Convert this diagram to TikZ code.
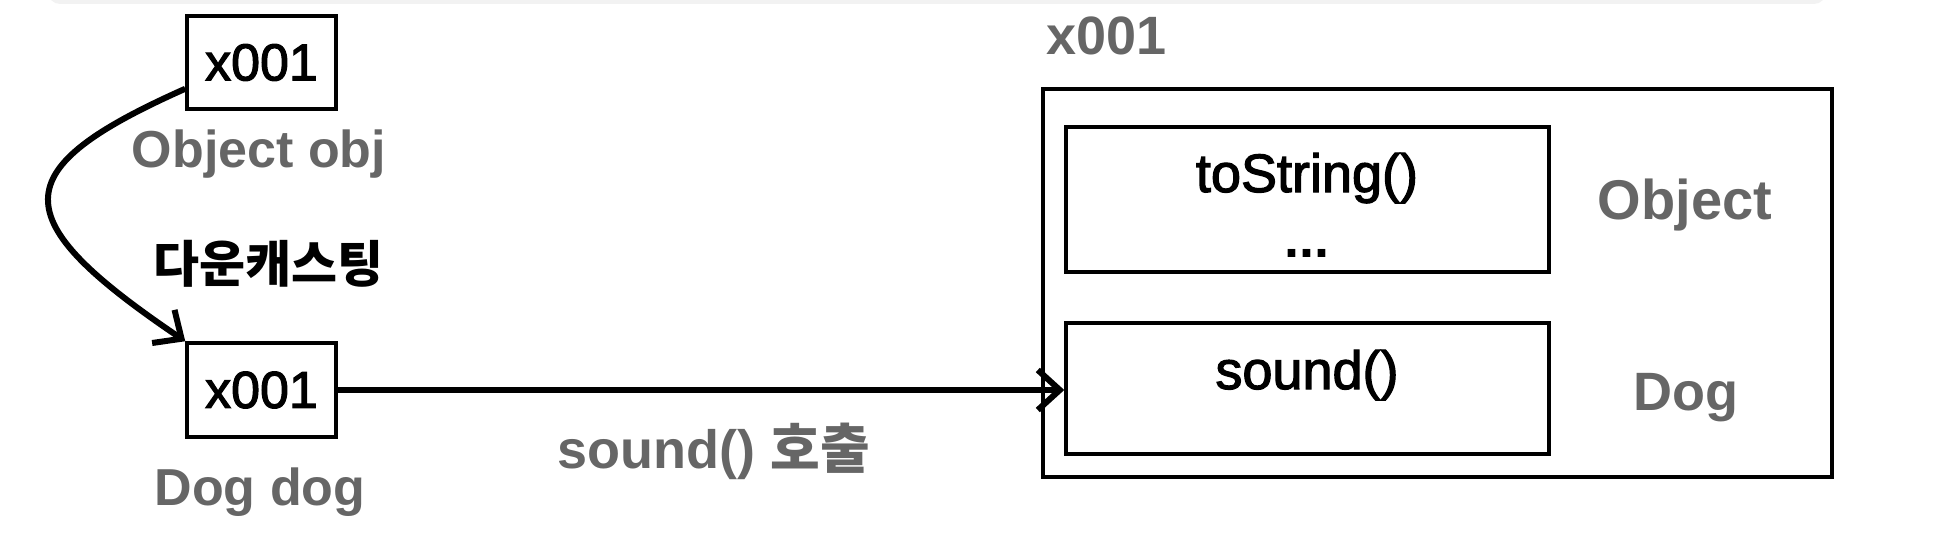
\documentclass[tikz,border=0pt]{standalone}
\usepackage{fontspec}
\setmainfont{Liberation Sans}
\newfontfamily\heavy{Liberation Sans}[FakeBold=2.2]
\newfontfamily\kr{Noto Sans CJK KR}
\usetikzlibrary{arrows.meta}
\definecolor{lblgray}{HTML}{666666}
\begin{document}
\begin{tikzpicture}[x=0.5pt,y=-0.5pt,
  box/.style={draw,line width=1.75pt,inner sep=0pt,font=\fontsize{26}{31}\selectfont\heavy},
  lbl/.style={text=lblgray,font=\fontsize{26}{31}\selectfont\bfseries,inner sep=0pt,anchor=base},
  link/.style={line width=3pt,-{Straight Barb[length=11pt,width=20pt,line width=3pt]}}]
\useasboundingbox (0,0) rectangle (1934,540);
\fill[black!5,rounded corners=6pt] (48,-40) rectangle (1826,4);
% references on the stack
\node[box,minimum width=149*0.5pt,minimum height=93*0.5pt] (objref) at (261.5,62.5) {x001};
\node[lbl] (objname) at (259,168) {Object obj};
\node[box,minimum width=149*0.5pt,minimum height=94*0.5pt] (dogref) at (261.5,390) {x001};
\node[lbl] (dogname) at (260,505) {Dog dog};
\node[inner sep=0pt,font=\fontsize{25}{30}\selectfont\kr\bfseries] (cast) at (268,264) {다운캐스팅};
% the instance
\node[lbl,anchor=base west,font=\fontsize{27}{32}\selectfont\bfseries] (addr) at (1046,55) {x001};
\node[box,line width=2pt,minimum width=789*0.5pt,minimum height=388*0.5pt] (inst) at (1437.5,283) {};
\node[box,minimum width=483*0.5pt,minimum height=145*0.5pt] (objpart) at (1307.5,199.5) {};
\node[box,minimum width=483*0.5pt,minimum height=131*0.5pt] (dogpart) at (1307.5,388.5) {};
\node[anchor=base,inner sep=0pt,font=\fontsize{27}{32}\selectfont\heavy] (tostr) at (1307,192) {toString()};
\node[anchor=base,inner sep=0pt,font=\fontsize{27}{32}\selectfont\bfseries] (dots) at (1307,257) {...};
\node[anchor=base,inner sep=0pt,font=\fontsize{27}{32}\selectfont\heavy] (snd) at (1307,389) {sound()};
\node[lbl,font=\fontsize{28}{33}\selectfont\bfseries] (objcls) at (1685,220) {Object};
\node[lbl,font=\fontsize{27}{32}\selectfont\bfseries] (dogcls) at (1686,410) {Dog};
\node[lbl,font=\fontsize{27}{32}\selectfont\bfseries] (call) at (714,468) {sound() {\kr 호출}};
% connectors
\draw[link] (objref.199) .. controls +(-182,81) and +(-182,-123) .. (dogref.north west);
\draw[link] (dogref.east) -- (dogref.east -| dogpart.west);
\end{tikzpicture}
\end{document}
